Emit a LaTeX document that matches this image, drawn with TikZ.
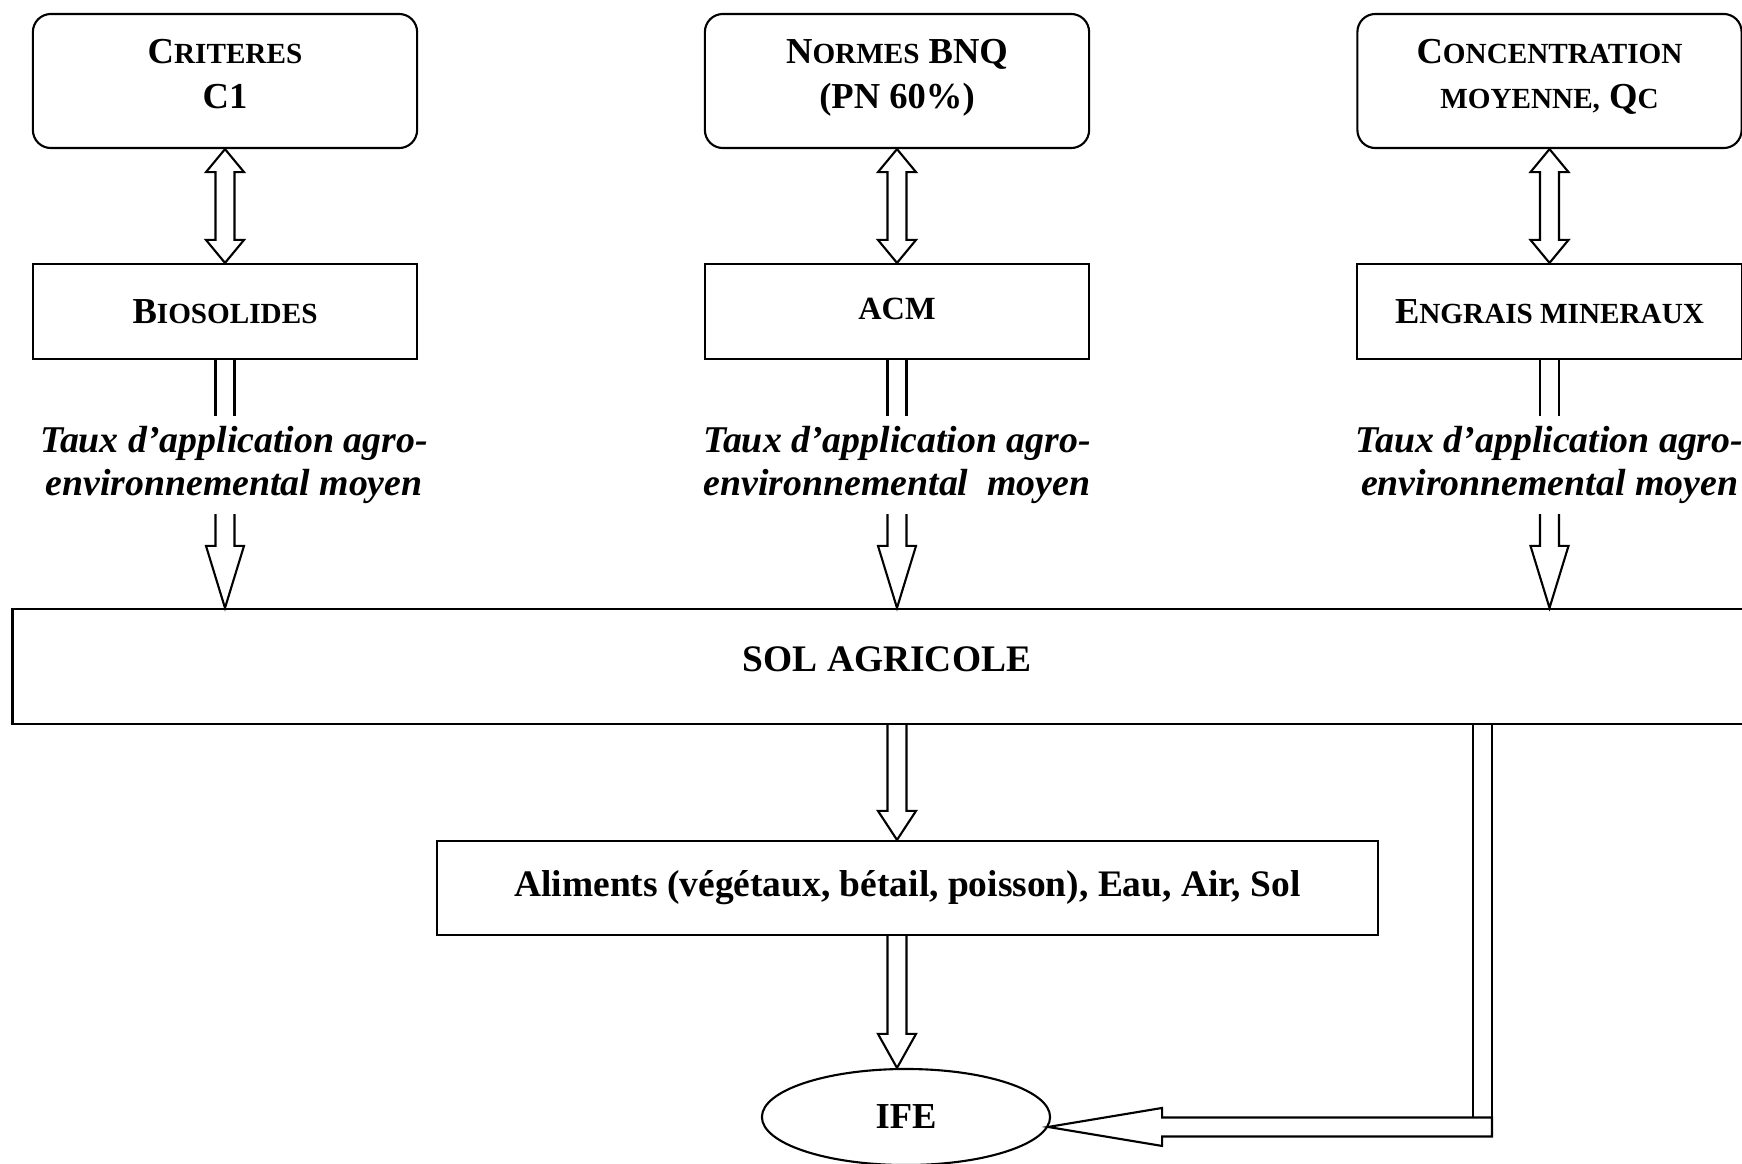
\documentclass[tikz,border=0pt]{standalone}
\usepackage{fontspec}
\setmainfont{Liberation Serif}
\usetikzlibrary{calc,shapes.geometric}
\newcommand{\pc}[1]{{\fontsize{8.3}{10}\selectfont #1}}

\begin{document}
\begin{tikzpicture}[x=0.01cm, y=-0.01cm, line width=0.6pt]
\tikzset{cadre/.style={draw, align=center, inner sep=0pt, minimum width=3.84cm, font=\fontsize{10.4}{12.8}\selectfont\bfseries},
  arrondi/.style={cadre, rounded corners=0.18cm, minimum height=1.34cm, text depth=4pt},
  carre/.style={cadre, minimum height=0.95cm},
  taux/.style={align=center, inner sep=0pt, minimum height=0.96cm, font=\fontsize{10.75}{12.2}\selectfont\bfseries\itshape},
  tuyau/.style={to path={($(\tikztostart)+(-9.5,0)$) -- ($(\tikztotarget)+(-9.5,0)$) ($(\tikztostart)+(9.5,0)$) -- ($(\tikztotarget)+(9.5,0)$)}},
  fleche/.style={to path={($(\tikztostart)+(-9.5,0)$) -- ($(\tikztotarget)+(-9.5,-#1)$) -- ($(\tikztotarget)+(-19,-#1)$) -- (\tikztotarget) -- ($(\tikztotarget)+(19,-#1)$) -- ($(\tikztotarget)+(9.5,-#1)$) -- ($(\tikztostart)+(9.5,0)$)}},
  allerretour/.style={to path={(\tikztostart) -- ($(\tikztostart)+(19,#1)$) -- ($(\tikztostart)+(9.5,#1)$) -- ($(\tikztotarget)+(9.5,-#1)$) -- ($(\tikztotarget)+(19,-#1)$) -- (\tikztotarget) -- ($(\tikztotarget)+(-19,-#1)$) -- ($(\tikztotarget)+(-9.5,-#1)$) -- ($(\tikztostart)+(-9.5,#1)$) -- ($(\tikztostart)+(-19,#1)$) -- cycle}}}
\useasboundingbox (0,0) rectangle (1742,1163);
\clip (0,0) rectangle (1742,1163);
\node[arrondi] (crit) at (225,81) {C\pc{RITERES}\\C1};
\node[arrondi] (bnq) at (897,81) {N\pc{ORMES} BNQ\\(PN 60\%)};
\node[arrondi] (conc) at (1549.5,81) {C\pc{ONCENTRATION}\\\pc{MOYENNE,} Q\pc{C}};
\node[carre] (bio) at (225,311.5) {B\pc{IOSOLIDES}};
\node[carre, font=\fontsize{9.2}{11}\selectfont\bfseries, text depth=1.5pt] (acm) at (897,311.5) {ACM};
\node[carre] (engr) at (1549.5,311.5) {E\pc{NGRAIS MINERAUX}};
\node[taux] (taux1) at (234,465) {Taux d’application agro-\\environnemental moyen};
\node[taux] (taux2) at (897,465) {Taux d’application agro-\\environnemental\ \ moyen};
\node[taux] (taux3) at (1549.5,465) {Taux d’application agro-\\environnemental moyen};
\node[cadre, minimum width=17.48cm, minimum height=1.15cm, text depth=4.3pt, font=\fontsize{10.65}{12.8}\selectfont\bfseries] (sol) at (887,666.5) {SOL AGRICOLE};
\node[carre, minimum width=9.41cm, minimum height=0.94cm, font=\fontsize{10.65}{12.8}\selectfont\bfseries] (alim) at (907.5,888) {Aliments (végétaux, bétail, poisson), Eau, Air, Sol};
\node[cadre, ellipse, minimum width=2.88cm, minimum height=0.96cm] (ife) at (906,1117) {IFE};
\coordinate (coude) at (1482.5,1117.5);
\draw (crit.south) to[allerretour=23] (bio.north);
\draw (bnq.south) to[allerretour=23] (acm.north);
\draw (conc.south) to[allerretour=23] (engr.north);
\draw (bio.south) to[tuyau] (bio.south |- taux1.north);
\draw (acm.south) to[tuyau] (taux2.north);
\draw (engr.south) to[tuyau] (taux3.north);
\draw (bio.south |- taux1.south) to[fleche=62] (bio.south |- sol.north);
\draw (taux2.south) to[fleche=62] (taux2.south |- sol.north);
\draw (taux3.south) to[fleche=62] (taux3.south |- sol.north);
\draw (acm.south |- sol.south) to[fleche=29] (acm.south |- alim.north);
\draw (acm.south |- alim.south) to[fleche=34] (acm.south |- ife.north);
\draw (sol.south -| coude) to[tuyau] (coude);
\draw ($(coude)+(-9.5,0)$) -- ($(coude)+(9.5,0)$) -- ($(coude)+(9.5,19)$) -- ($(ife.-4)+(114,9.5)$) -- ($(ife.-4)+(114,19)$) -- (ife.-4) -- ($(ife.-4)+(114,-19)$) -- ($(ife.-4)+(114,-9.5)$) -- cycle;
\end{tikzpicture}
\end{document}
